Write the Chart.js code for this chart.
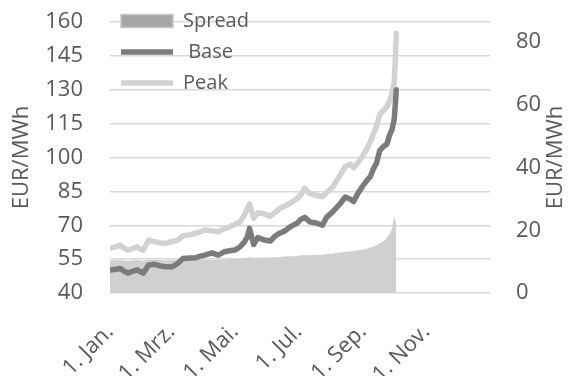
<!DOCTYPE html>
<html>
<head>
<meta charset="utf-8">
<script src="https://cdn.jsdelivr.net/npm/chart.js@4"></script>
<style>
  body { margin: 0; background: #fff; }
  #wrap { width: 571px; height: 376px; }
</style>
</head>
<body>
<div id="wrap"><canvas id="chart"></canvas></div>
<script>
// day of year (0 = 1. Jan.)
var days = [0, 6, 10, 13, 17, 21, 26, 29, 32, 37, 43, 48, 53, 60, 65, 70, 77, 82, 86, 91,
  98, 104, 110, 115, 120, 125, 129, 132, 134, 138, 142, 148, 154, 158, 163, 168, 173, 180, 183, 187,
  192, 198, 204, 208, 214, 221, 226, 231, 234, 238, 243, 247, 250, 253, 256, 259, 263, 266, 269, 271,
  273, 274, 275];

var base = [50.2, 50.5, 50.9, 49.8, 48.8, 49.5, 50.2, 49.5, 48.8, 52.4, 52.7, 52.0, 51.6, 51.6, 53.1,
  55.3, 55.5, 55.6, 56.2, 56.8, 57.8, 56.8, 58.3, 58.7, 59.0, 60.5, 62.5, 64.9, 68.6, 61.5,
  64.5, 63.5, 63.0, 65.0, 66.5, 67.5, 69.3, 71.0, 72.5, 73.5, 71.5, 71.0, 70.0, 73.5, 76.0,
  79.5, 82.5, 81.5, 80.5, 84.0, 87.5, 90.0, 91.5, 95.0, 97.5, 103.0, 105.0, 106.0, 110.5, 112.5,
  117.0, 123.0, 130.0];

var peak = [59.8, 60.5, 61.2, 60.0, 59.0, 59.5, 60.5, 59.5, 59.0, 63.4, 62.7, 62.2, 62.0, 62.8, 63.4,
  65.3, 65.8, 66.4, 67.0, 67.9, 67.5, 67.1, 68.5, 69.3, 70.5, 71.5, 74.5, 77.5, 79.5, 73.0,
  75.5, 75.0, 74.0, 75.5, 77.5, 78.5, 79.7, 82.0, 83.3, 86.3, 84.0, 83.3, 82.6, 84.5, 87.0,
  92.2, 96.0, 97.0, 95.5, 97.5, 101.0, 104.0, 107.0, 110.5, 113.5, 119.0, 121.0, 122.5, 125.5, 129.0,
  133.0, 143.0, 155.0];

var spread = [10.4, 10.5, 10.6, 10.4, 10.3, 10.4, 10.5, 10.4, 10.3, 10.6, 10.5, 10.5, 10.4, 10.5, 10.5,
  10.4, 10.5, 10.6, 10.6, 10.7, 10.6, 10.6, 10.7, 10.8, 10.9, 11.0, 11.1, 11.3, 11.4, 11.2,
  11.2, 11.3, 11.3, 11.4, 11.5, 11.6, 11.7, 11.8, 12.0, 12.1, 12.0, 12.1, 12.2, 12.4, 12.6,
  12.9, 13.1, 13.3, 13.4, 13.6, 13.9, 14.2, 14.5, 14.8, 15.2, 15.8, 16.6, 17.6, 19.0, 20.8,
  24.8, 22.5, 23.5];

var tickDays = [0, 59, 120, 181, 243, 304];
var tickLabels = ["1. Jan.", "1. Mrz.", "1. Mai.", "1. Jul.", "1. Sep.", "1. Nov."];
var leftTicks = [40, 55, 70, 85, 100, 115, 130, 145, 160];
var rightTicks = [0, 20, 40, 60, 80];

function pts(vals) {
  return days.map((d, i) => ({ x: d, y: vals[i] }));
}

Chart.defaults.font.family = "'Open Sans'";
Chart.defaults.color = "#595959";

// right axis title reads bottom-to-top like the left one
var rightTitle = {
  id: "rightTitle",
  afterDraw(chart) {
    var ctx = chart.ctx, a = chart.chartArea;
    ctx.save();
    ctx.translate(chart.width - 15, (a.top + a.bottom) / 2);
    ctx.rotate(-Math.PI / 2);
    ctx.font = "22px 'Open Sans'";
    ctx.fillStyle = "#595959";
    ctx.textAlign = "center";
    ctx.textBaseline = "middle";
    ctx.fillText("EUR/MWh", 0, 0);
    ctx.restore();
  }
};

// fixed axis sizes, no extra top/bottom padding from tick labels
function fixWidth(w) {
  return function (s) {
    s.width = w;
    s.paddingTop = 0;
    s.paddingBottom = 0;
  };
}

new Chart(document.getElementById("chart"), {
  type: "line",
  data: {
    datasets: [
      {
        label: "Spread",
        data: pts(spread),
        yAxisID: "y2",
        backgroundColor: "#d0d0d0",
        borderColor: "#d0d0d0",
        borderWidth: 0,
        fill: "origin",
        pointRadius: 0,
        pointStyle: "rect",
        order: 3
      },
      {
        label: " Base",
        data: pts(base),
        yAxisID: "y",
        borderColor: "#7b7b7b",
        borderWidth: 5.5,
        borderCapStyle: "round",
        borderJoinStyle: "round",
        fill: false,
        pointRadius: 0,
        pointStyle: "line",
        order: 1
      },
      {
        label: "Peak",
        data: pts(peak),
        yAxisID: "y",
        borderColor: "#d2d2d2",
        borderWidth: 5.5,
        borderCapStyle: "round",
        borderJoinStyle: "round",
        fill: false,
        pointRadius: 0,
        pointStyle: "line",
        order: 2
      }
    ]
  },
  options: {
    responsive: true,
    maintainAspectRatio: false,
    animation: false,
    layout: { padding: { top: 22, left: 0, right: 0, bottom: 0 } },
    plugins: {
      tooltip: { enabled: false },
      legend: {
        position: "chartArea",
        align: "start",
        labels: {
          usePointStyle: true,
          pointStyleWidth: 52,
          boxHeight: 13,
          padding: 11,
          color: "#595959",
          font: { size: 20 },
          sort: function (a, b) { return a.datasetIndex - b.datasetIndex; },
          generateLabels: function (chart) {
            var items = Chart.defaults.plugins.legend.labels.generateLabels(chart);
            items.forEach(function (it) {
              if (it.text === "Spread") {
                it.fillStyle = "#a6a6a6";
                it.strokeStyle = "#c8c8c8";
                it.lineWidth = 1.5;
              }
            });
            return items;
          }
        }
      }
    },
    scales: {
      x: {
        type: "linear",
        min: 0,
        max: 365,
        grid: { display: false, drawTicks: false },
        border: { display: false },
        afterBuildTicks: function (s) {
          s.ticks = tickDays.map(v => ({ value: v }));
        },
        ticks: {
          autoSkip: false,
          minRotation: 45,
          maxRotation: 45,
          padding: 26,
          font: { size: 22 },
          callback: function (v, i) { return tickLabels[i]; }
        },
        afterFit: function (s) { s.height = 83; }
      },
      y: {
        position: "left",
        min: 40,
        max: 160,
        afterBuildTicks: function (s) {
          s.ticks = leftTicks.map(v => ({ value: v }));
        },
        grid: { color: "#d9d9d9", lineWidth: 1.5, drawTicks: false },
        border: { display: false },
        ticks: { padding: 27, font: { size: 22 } },
        title: { display: true, text: "EUR/MWh", font: { size: 22 }, padding: { top: 9, bottom: 0 } },
        afterFit: fixWidth(110)
      },
      y2: {
        position: "right",
        min: 0,
        max: 86.4,
        afterBuildTicks: function (s) {
          s.ticks = rightTicks.map(v => ({ value: v }));
        },
        grid: { display: false, drawTicks: false },
        border: { display: false },
        ticks: { padding: 26, font: { size: 22 } },
        afterFit: fixWidth(81)
      }
    }
  },
  plugins: [rightTitle]
});
</script>
</body>
</html>
